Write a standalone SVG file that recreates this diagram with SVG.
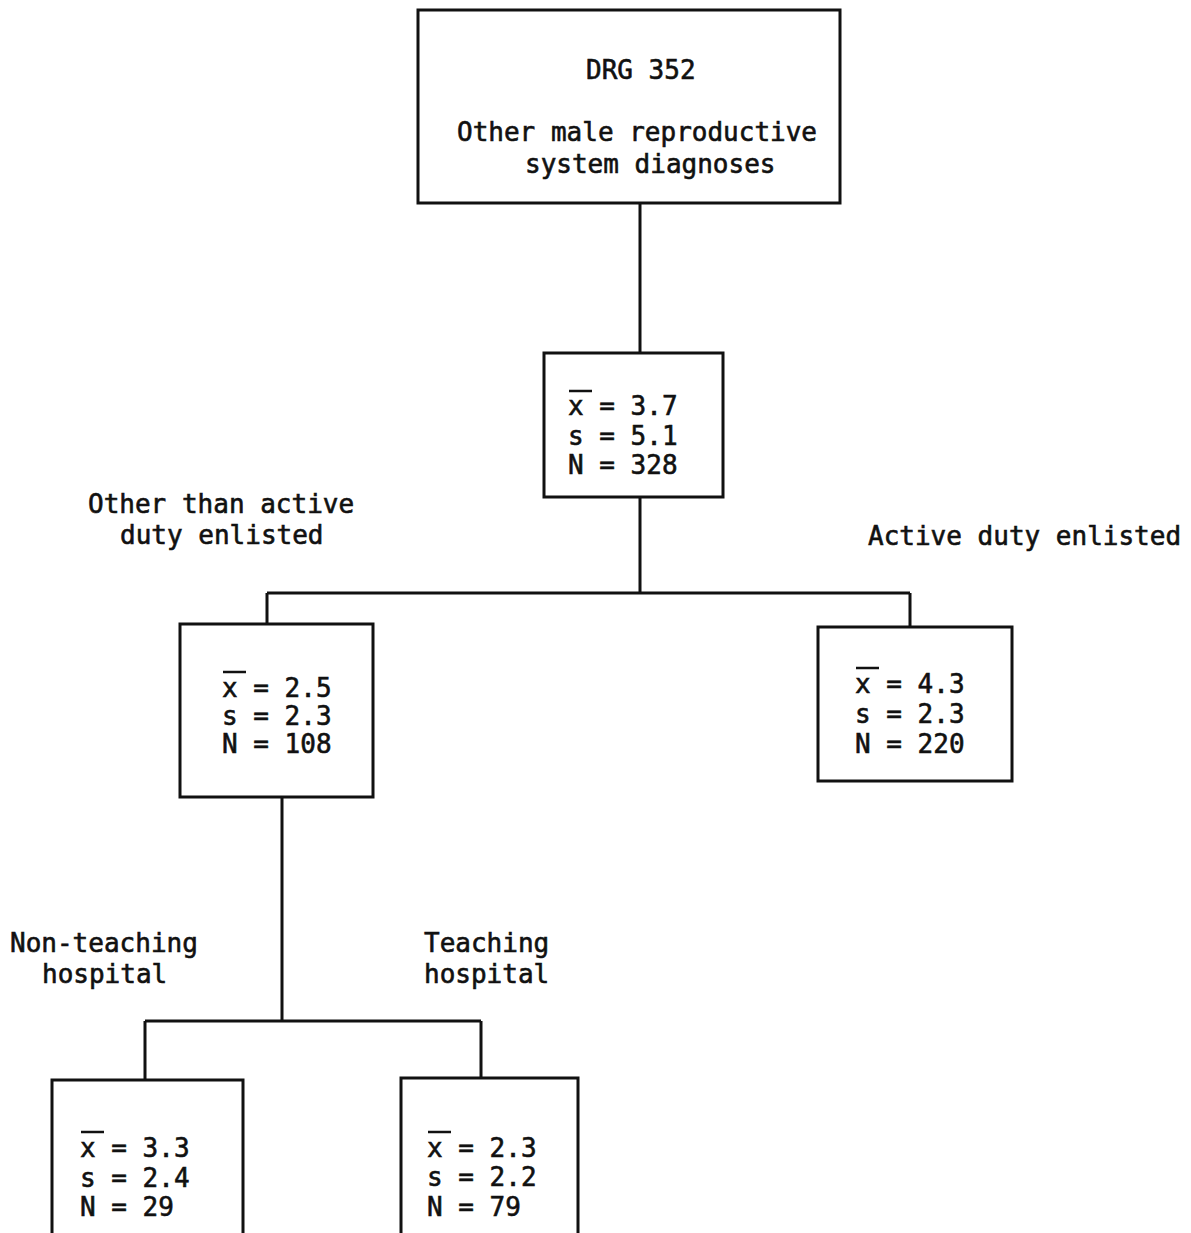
<svg xmlns="http://www.w3.org/2000/svg" width="1191" height="1233" viewBox="0 0 1191 1233">
<style>
.box{fill:none;stroke:#111;stroke-width:3}
.con{fill:none;stroke:#111;stroke-width:3}
.bar{stroke:#111;stroke-width:2.5}
text{font-family:"DejaVu Sans Mono","Liberation Mono",monospace;font-size:26px;fill:#111;stroke:#111;stroke-width:0.6}
</style>
<rect width="1191" height="1233" fill="#fff"/>
<g id="connectors">
<path class="con" d="M640 203V353"/>
<path class="con" d="M640 497V593M267 593H910M267 593V624M910 593V627"/>
<path class="con" d="M282 797V1021M145 1021H481M145 1021V1080M481 1021V1078"/>
</g>
<g id="labels">
<text x="88" y="513">Other than active</text>
<text x="120" y="544">duty enlisted</text>
<text x="868" y="545">Active duty enlisted</text>
<text x="10" y="952">Non-teaching</text>
<text x="42" y="983">hospital</text>
<text x="424" y="952">Teaching</text>
<text x="424" y="983">hospital</text>
</g>
<g id="root">
<rect class="box" x="418" y="10" width="422" height="193"/>
<text x="586" y="79">DRG 352</text>
<text x="457" y="141">Other male reproductive</text>
<text x="525" y="173">system diagnoses</text>
</g>
<g id="all">
<rect class="box" x="544" y="353" width="179" height="144"/>
<line class="bar" x1="569" y1="391" x2="592" y2="391"/>
<text x="568" y="415">x = 3.7</text>
<text x="568" y="445">s = 5.1</text>
<text x="568" y="474">N = 328</text>
</g>
<g id="other">
<rect class="box" x="180" y="624" width="193" height="173"/>
<line class="bar" x1="223" y1="672" x2="246" y2="672"/>
<text x="222" y="697">x = 2.5</text>
<text x="222" y="725">s = 2.3</text>
<text x="222" y="753">N = 108</text>
</g>
<g id="active">
<rect class="box" x="818" y="627" width="194" height="154"/>
<line class="bar" x1="856" y1="668" x2="879" y2="668"/>
<text x="855" y="693">x = 4.3</text>
<text x="855" y="723">s = 2.3</text>
<text x="855" y="753">N = 220</text>
</g>
<g id="nonteaching">
<path class="box" d="M52 1233V1080H243V1233"/>
<line class="bar" x1="81" y1="1132" x2="104" y2="1132"/>
<text x="80" y="1157">x = 3.3</text>
<text x="80" y="1187">s = 2.4</text>
<text x="80" y="1216">N = 29</text>
</g>
<g id="teaching">
<path class="box" d="M401 1233V1078H578V1233"/>
<line class="bar" x1="428" y1="1132" x2="451" y2="1132"/>
<text x="427" y="1157">x = 2.3</text>
<text x="427" y="1186">s = 2.2</text>
<text x="427" y="1216">N = 79</text>
</g>
</svg>
